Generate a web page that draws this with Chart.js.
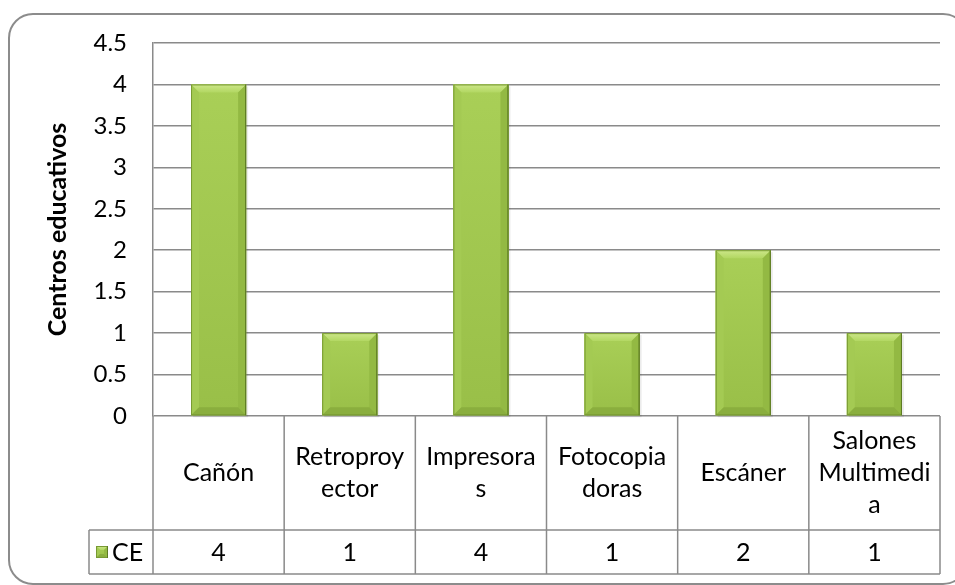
<!DOCTYPE html>
<html>
<head>
<meta charset="utf-8">
<script src="https://cdn.jsdelivr.net/npm/chart.js@4/dist/chart.umd.min.js"></script>
<style>
  html, body { margin: 0; padding: 0; background: #ffffff; }
  #wrap { width: 955px; height: 585px; position: relative; }
</style>
</head>
<body>
<div id="wrap"><canvas id="c" width="955" height="585"></canvas></div>
<script>
// ---- data ----
const categories = [
  ["Cañón"],
  ["Retroproy", "ector"],
  ["Impresora", "s"],
  ["Fotocopia", "doras"],
  ["Escáner"],
  ["Salones", "Multimedi", "a"]
];
const seriesName = "CE";
const values = [4, 1, 4, 1, 2, 1];
const yMin = 0;
const yMax = 4.5;
const yStep = 0.5;
const yTitle = "Centros educativos";

// ---- style ----
const FONT = "Lato";
const GRID = "#8a8a8a";

function bevelRect(ctx, l, t, r, bot, b) {
  const w = r - l, h = bot - t;
  b = Math.min(b, w / 2, h / 2);
  const g = ctx.createLinearGradient(0, t, 0, bot);
  g.addColorStop(0, "#a9cf57");
  g.addColorStop(1, "#99bf48");
  ctx.fillStyle = g;
  ctx.fillRect(l, t, w, h);
  const gt = ctx.createLinearGradient(0, t, 0, t + b);
  gt.addColorStop(0, "#cde78a");
  gt.addColorStop(1, "#b2d762");
  ctx.fillStyle = gt;
  ctx.beginPath();
  ctx.moveTo(l, t); ctx.lineTo(r, t); ctx.lineTo(r - b, t + b); ctx.lineTo(l + b, t + b); ctx.closePath(); ctx.fill();
  ctx.fillStyle = "#a4ca53";
  ctx.beginPath();
  ctx.moveTo(l, t); ctx.lineTo(l + b, t + b); ctx.lineTo(l + b, bot - b); ctx.lineTo(l, bot); ctx.closePath(); ctx.fill();
  ctx.fillStyle = "#93b943";
  ctx.beginPath();
  ctx.moveTo(r, t); ctx.lineTo(r, bot); ctx.lineTo(r - b, bot - b); ctx.lineTo(r - b, t + b); ctx.closePath(); ctx.fill();
  ctx.fillStyle = "#8aae3e";
  ctx.beginPath();
  ctx.moveTo(l, bot); ctx.lineTo(r, bot); ctx.lineTo(r - b, bot - b); ctx.lineTo(l + b, bot - b); ctx.closePath(); ctx.fill();
  ctx.strokeStyle = "#789a33";
  ctx.lineWidth = 1;
  ctx.strokeRect(l + 0.5, t + 0.5, w - 1, h - 1);
  ctx.strokeStyle = "#5d7a24";
  ctx.beginPath(); ctx.moveTo(r - 0.5, t); ctx.lineTo(r - 0.5, bot); ctx.stroke();
}

const frame = {
  id: "frame",
  beforeDraw(chart) {
    const ctx = chart.ctx;
    ctx.save();
    ctx.fillStyle = "#ffffff";
    ctx.fillRect(0, 0, chart.width, chart.height);
    ctx.strokeStyle = "#8c8c8c";
    ctx.lineWidth = 2;
    ctx.beginPath();
    ctx.roundRect(9, 14, 958, 570, 24);
    ctx.stroke();
    ctx.restore();
  }
};

const bevel = {
  id: "bevel",
  afterDatasetsDraw(chart) {
    const ctx = chart.ctx;
    const meta = chart.getDatasetMeta(0);
    ctx.save();
    meta.data.forEach(el => {
      const p = el.getProps(["x", "y", "base", "width"], true);
      const l = p.x - p.width / 2, r = p.x + p.width / 2;
      ctx.fillStyle = "rgba(0,0,0,0.08)";
      ctx.fillRect(l + 2, p.y + 2, p.width, p.base - p.y);
      bevelRect(ctx, l, p.y, r, p.base, 8);
    });
    ctx.restore();
  }
};

const dataTable = {
  id: "dataTable",
  afterDraw(chart) {
    const ctx = chart.ctx;
    const xs = chart.scales.x;
    const area = chart.chartArea;
    const n = categories.length;
    const catTop = area.bottom;
    const catBottom = catTop + 114;
    const rowBottom = catBottom + 44;
    const legLeft = 89;
    ctx.save();
    ctx.strokeStyle = GRID;
    ctx.lineWidth = 1.5;
    ctx.beginPath();
    for (let i = 0; i <= n; i++) {
      const bx = i === 0 ? area.left : (i === n ? area.right : (xs.getPixelForValue(i - 1) + xs.getPixelForValue(i)) / 2);
      ctx.moveTo(bx, catTop); ctx.lineTo(bx, rowBottom);
    }
    ctx.moveTo(legLeft, catBottom); ctx.lineTo(legLeft, rowBottom);
    ctx.moveTo(legLeft, catBottom); ctx.lineTo(area.right, catBottom);
    ctx.moveTo(legLeft, rowBottom); ctx.lineTo(area.right, rowBottom);
    ctx.stroke();

    ctx.fillStyle = "#000000";
    ctx.textAlign = "center";
    ctx.textBaseline = "middle";
    ctx.font = "25px " + FONT;
    const lh = 32;
    categories.forEach((lines, i) => {
      const cx = xs.getPixelForValue(i);
      const cy = (catTop + catBottom) / 2;
      const y0 = cy - (lines.length - 1) * lh / 2;
      lines.forEach((t, k) => ctx.fillText(t, cx, y0 + k * lh));
      ctx.fillText(String(values[i]), cx, (catBottom + rowBottom) / 2 + 1);
    });
    const ky = (catBottom + rowBottom) / 2;
    bevelRect(ctx, 96, ky - 6, 108, ky + 6, 4);
    ctx.fillStyle = "#000000";
    ctx.textAlign = "left";
    ctx.fillText(seriesName, 112, ky + 1);
    ctx.restore();
  }
};

new Chart(document.getElementById("c"), {
  type: "bar",
  data: {
    labels: categories,
    datasets: [{
      label: seriesName,
      data: values,
      backgroundColor: "#a3c94f",
      borderWidth: 0,
      barPercentage: 0.42,
      categoryPercentage: 1.0
    }]
  },
  options: {
    responsive: false,
    animation: false,
    events: [],
    layout: { padding: { left: 0, top: 43, right: 15, bottom: 0 } },
    plugins: { legend: { display: false }, tooltip: { enabled: false } },
    scales: {
      x: {
        type: "category",
        offset: true,
        ticks: { display: false },
        grid: { display: false },
        border: { display: false },
        afterFit(s) { s.height = 169; }
      },
      y: {
        min: yMin,
        max: yMax,
        ticks: {
          stepSize: yStep,
          color: "#000000",
          font: { family: FONT, size: 24 },
          padding: 26,
          callback: (v) => String(Math.round(v * 10) / 10)
        },
        grid: { color: GRID, lineWidth: 1.5, drawTicks: false },
        border: { display: true, color: GRID, width: 1.5 },
        title: {
          display: true,
          text: yTitle,
          color: "#000000",
          font: { family: FONT, size: 25, weight: "bold" },
          padding: { top: 43, bottom: 0 }
        },
        afterFit(s) { s.width = 153; }
      }
    }
  },
  plugins: [frame, bevel, dataTable]
});
</script>
</body>
</html>
